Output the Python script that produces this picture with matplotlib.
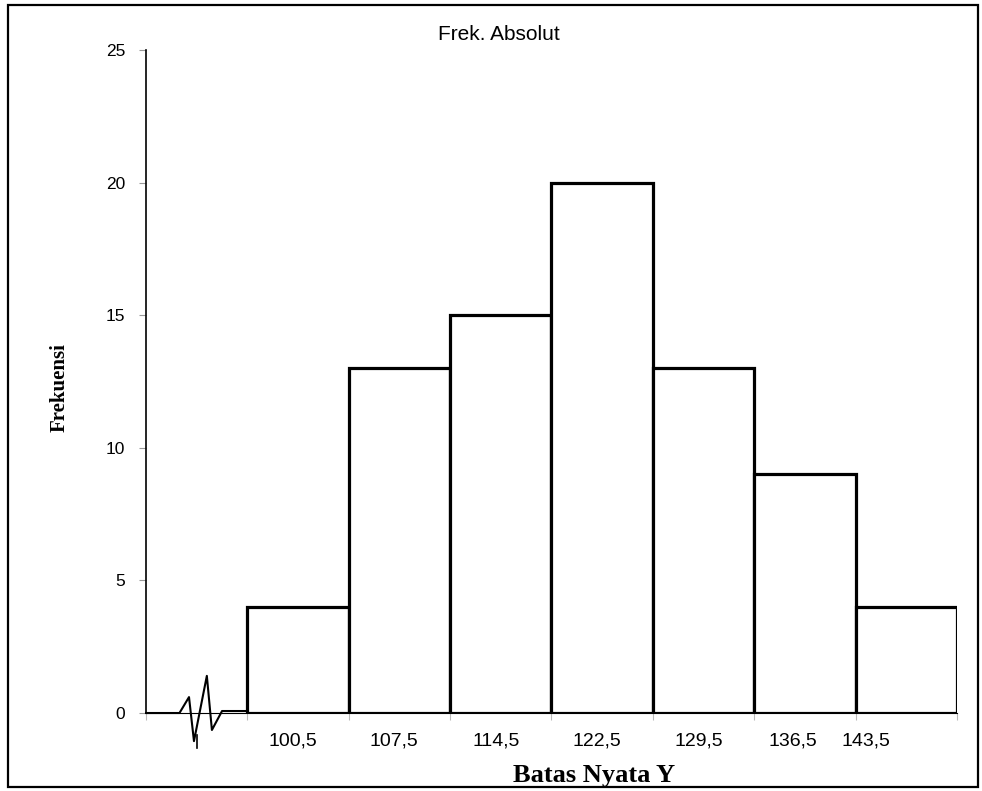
import matplotlib.pyplot as plt
from matplotlib.patches import Rectangle

# Histogram data: real class boundaries and absolute frequency
batas = ["100,5", "107,5", "114,5", "122,5", "129,5", "136,5", "143,5"]
frekuensi = [4, 13, 15, 20, 13, 9, 4]

fig = plt.figure(figsize=(9.82, 7.91), dpi=100)
ax = fig.add_axes([0.1487, 0.0986, 0.8258, 0.8382])

# first slot on the x axis is left empty for the axis break
pos = [i + 1 for i in range(len(frekuensi))]
ax.bar(pos, frekuensi, width=1.0, align="edge", color="white",
       edgecolor="black", linewidth=2.3, zorder=3)

ax.set_xlim(0, 8)
ax.set_ylim(0, 25)
ax.set_yticks([0, 5, 10, 15, 20, 25])
ax.tick_params(axis="y", length=5, color="#999999", pad=10,
               labelsize=12.5, labelfontfamily="Liberation Sans")
ax.set_xticks(range(9))
ax.set_xticklabels([])
ax.tick_params(axis="x", length=5, color="#bbbbbb")

# class boundary labels under the bars
label_x = [p + 0.45 for p in pos]
label_x[-2] = 6.38
label_x[-1] = 7.1
for x, lab in zip(label_x, batas):
    ax.text(x, -0.75, lab, ha="center", va="top", fontsize=14,
            family="Liberation Sans")

for side in ["top", "right"]:
    ax.spines[side].set_visible(False)
ax.spines["left"].set_linewidth(1.2)
ax.spines["bottom"].set_linewidth(0.8)

# axis break zigzag
bx = [0, 0.33, 0.424, 0.473, 0.60, 0.65, 0.75, 1.0]
by = [0, 0, 0.6, -1.06, 1.4, -0.64, 0.075, 0.075]
ax.plot(bx, by, color="black", linewidth=1.5, clip_on=False, zorder=4)
ax.plot([0.503, 0.503], [-0.83, -1.32], color="black", linewidth=1.2, clip_on=False)

fig.text(499 / 982, 1 - 34 / 791, "Frek. Absolut", fontsize=15,
         family="Liberation Sans", ha="center", va="center")
fig.text(60 / 982, 1 - 388 / 791, "Frekuensi", fontsize=15, rotation=90,
         family="Liberation Serif", fontweight="bold", ha="center", va="center")
fig.text(594 / 982, 1 - 782 / 791, "Batas Nyata Y", fontsize=19,
         family="Liberation Serif", fontweight="bold", ha="center", va="baseline")

# border round the whole chart
fig.patches.append(Rectangle((0.008, 0.005), 0.988, 0.989, transform=fig.transFigure,
                             fill=False, edgecolor="black", linewidth=1.6))

fig.savefig("out.png", dpi=100)
